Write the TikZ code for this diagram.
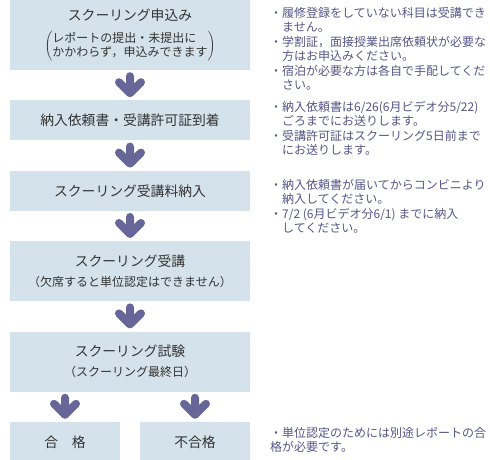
\documentclass[tikz,border=0pt]{standalone}
\usepackage{fontspec}
\setmainfont{Noto Sans CJK JP}
\usepackage{tikz}
\usetikzlibrary{calc,positioning}
\definecolor{boxblue}{RGB}{212,227,235}
\definecolor{arrowpurple}{RGB}{102,102,153}
\definecolor{notepurple}{RGB}{85,85,136}
\definecolor{boxtext}{RGB}{51,51,51}

\begin{document}
\begin{tikzpicture}[x=1pt,y=-1pt,node distance=30pt,
	box/.style={fill=boxblue,text=boxtext,minimum width=240pt,inner sep=0pt,align=center,font=\fontsize{13.8}{16}\selectfont},
	note/.style={anchor=north west,inner sep=0pt,align=left,text=notepurple,font=\fontsize{12}{14}\selectfont},
	pics/downarr/.style={code={\draw[arrowpurple,line width=8,line cap=round,line join=round] (0,-9) -- (0,8) (-11,-3) -- (0,8) -- (11,-3);}}]
	\useasboundingbox (0,0) rectangle (490,460);

	\node[box,minimum height=70pt] (apply) at (130,35) {スクーリング申込み\\[9pt]{\fontsize{12}{12}\selectfont$\left(\begin{tabular}{@{}l@{}}レポートの提出・未提出に\\かかわらず，申込みできます\end{tabular}\right)$}};
	\node[box,minimum height=40pt,below=of apply] (permit) {納入依頼書・受講許可証到着};
	\node[box,minimum height=40pt,below=of permit] (fee) {スクーリング受講料納入};
	\node[box,minimum height=60pt,below=of fee] (attend) {スクーリング受講\\[4pt]{\fontsize{12}{12}\selectfont（欠席すると単位認定はできません）}};
	\node[box,minimum height=60pt,below=of attend] (exam) {スクーリング試験\\[4pt]{\fontsize{12}{12}\selectfont（スクーリング最終日）}};
	\node[box,minimum width=110pt,minimum height=40pt,below=of exam.south west,anchor=north west] (pass) {合　格};
	\node[box,minimum width=110pt,minimum height=40pt,below=of exam.south east,anchor=north east] (fail) {不合格};

	\pic at ($(apply.south)!.5!(permit.north)$) {downarr};
	\pic at ($(permit.south)!.5!(fee.north)$) {downarr};
	\pic at ($(fee.south)!.5!(attend.north)$) {downarr};
	\pic at ($(attend.south)!.5!(exam.north)$) {downarr};
	\pic at ($(exam.south -| pass.north)!.5!(pass.north)$) {downarr};
	\pic at ($(exam.south -| fail.north)!.5!(fail.north)$) {downarr};

	\node[note] (note1) at (270,7) {・履修登録をしていない科目は受講でき\\　ません。\\[1pt]・学割証，面接授業出席依頼状が必要な\\　方はお申込みください。\\[1pt]・宿泊が必要な方は各自で手配してくだ\\　さい。};
	\node[note] (note2) at (270,101) {・納入依頼書は6/26(6月ビデオ分5/22)\\　ごろまでにお送りします。\\[1pt]・受講許可証はスクーリング5日前まで\\　にお送りします。};
	\node[note] (note3) at (270,179) {・納入依頼書が届いてからコンビニより\\　納入してください。\\[1pt]・7/2 (6月ビデオ分6/1) までに納入\\　してください。};
	\node[note] (note4) at (270,427) {・単位認定のためには別途レポートの合\\格が必要です。};
\end{tikzpicture}
\end{document}
